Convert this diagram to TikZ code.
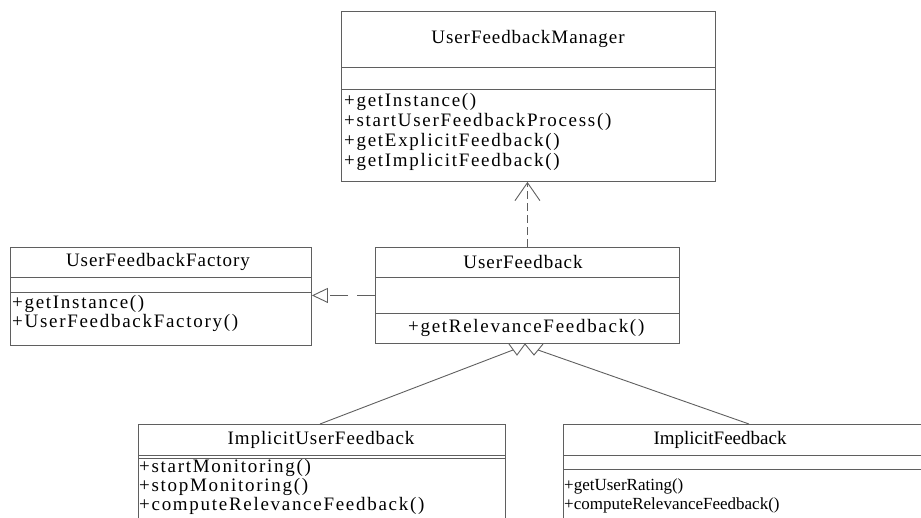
\documentclass[tikz,border=0pt]{standalone}
\usepackage{fontspec}
\setmainfont{Liberation Serif}
\newfontfamily\widefont[LetterSpace=9]{Liberation Serif}
\newfontfamily\titlefont[LetterSpace=5]{Liberation Serif}
\newfontfamily\plainfont{Liberation Serif}
\usetikzlibrary{arrows.meta}
\definecolor{linegray}{RGB}{95,95,95}
\begin{document}
\begin{tikzpicture}[x=1pt,y=-1pt]

\tikzset{classbox/.style={draw=linegray, line width=0.9pt, inner sep=0pt, anchor=north west}}
\tikzset{divider/.style={draw=linegray, line width=0.9pt}}
\tikzset{titletext/.style={inner sep=0pt, text=black, font=\titlefont\fontsize{19}{22}\selectfont}}
\tikzset{optext/.style={anchor=west, inner sep=0pt, text=black, font=\widefont\fontsize{19}{22}\selectfont}}
\tikzset{dependency/.style={draw=linegray, line width=0.9pt, dash pattern=on 8pt off 4pt}}
\tikzset{realization/.style={draw=linegray, line width=0.9pt, dash pattern=on 18pt off 9pt}}

\useasboundingbox (0,0) rectangle (921,518);
\clip (0,0) rectangle (921,518);

% UserFeedbackManager
\node[classbox, minimum width=374pt, minimum height=170pt] (mgr) at (341,11) {};
\draw[divider] (341,67) -- (715,67);
\draw[divider] (341,89) -- (715,89);
\node[titletext] (mgrname) at (528,39) {UserFeedbackManager};
\foreach \op [count=\i] in {{+getInstance()}, {+startUserFeedbackProcess()}, {+getExplicitFeedback()}, {+getImplicitFeedback()}}
  \node[optext] (mgrop\i) at (344,82+20*\i) {\op};

% UserFeedbackFactory
\node[classbox, minimum width=301pt, minimum height=98pt] (fac) at (10,247) {};
\draw[divider] (10,277) -- (311,277);
\draw[divider] (10,292) -- (311,292);
\node[titletext] (facname) at (158,262) {UserFeedbackFactory};
\node[optext] (facop1) at (12,304) {+getInstance()};
\node[optext] (facop2) at (12,323) {+UserFeedbackFactory()};

% UserFeedback
\node[classbox, minimum width=304pt, minimum height=96pt] (uf) at (375,247) {};
\draw[divider] (375,277) -- (679,277);
\draw[divider] (375,313) -- (679,313);
\node[titletext] (ufname) at (523,262) {UserFeedback};
\node[optext] (ufop1) at (408,328) {+getRelevanceFeedback()};

% ImplicitUserFeedback
\node[classbox, minimum width=367pt, minimum height=140pt] (iuf) at (138,424) {};
\draw[divider] (138,455) -- (505,455);
\draw[divider] (138,458) -- (505,458);
\node[titletext] (iufname) at (321,440) {ImplicitUserFeedback};
\foreach \op [count=\i] in {{+startMonitoring()}, {+stopMonitoring()}, {+computeRelevanceFeedback()}}
  \node[optext] (iufop\i) at (139,449+19*\i) {\op};

% ImplicitFeedback
\node[classbox, minimum width=400pt, minimum height=140pt] (if) at (563,424) {};
\draw[divider] (563,455) -- (963,455);
\draw[divider] (563,469) -- (963,469);
\node[titletext, font=\plainfont\fontsize{19}{22}\selectfont] (ifname) at (720,440) {ImplicitFeedback};
\node[optext, font=\plainfont\fontsize{17}{20}\selectfont] (ifop1) at (564,486) {+getUserRating()};
\node[optext, font=\plainfont\fontsize{17}{20}\selectfont] (ifop2) at (564,505) {+computeRelevanceFeedback()};

% dependencies
\draw[dependency, -{Straight Barb[length=18pt, width=25pt]}] (uf.north) -- (uf.north |- mgr.south);
\draw[realization, -{Triangle[open, length=16pt, width=15pt]}] (uf.west) -- (uf.west -| fac.east);

% generalizations
\draw[divider] (509,344) -- (517,355) -- (525,344);
\draw[divider] (525,344) -- (534,355) -- (543,344);
\coordinate (g1) at (513,350);
\coordinate (g2) at (538,350);
\coordinate (iuftop) at (320,424);
\coordinate (iftop) at (749,424);
\draw[divider] (iuftop) -- (g1);
\draw[divider] (iftop) -- (g2);

\end{tikzpicture}
\end{document}
